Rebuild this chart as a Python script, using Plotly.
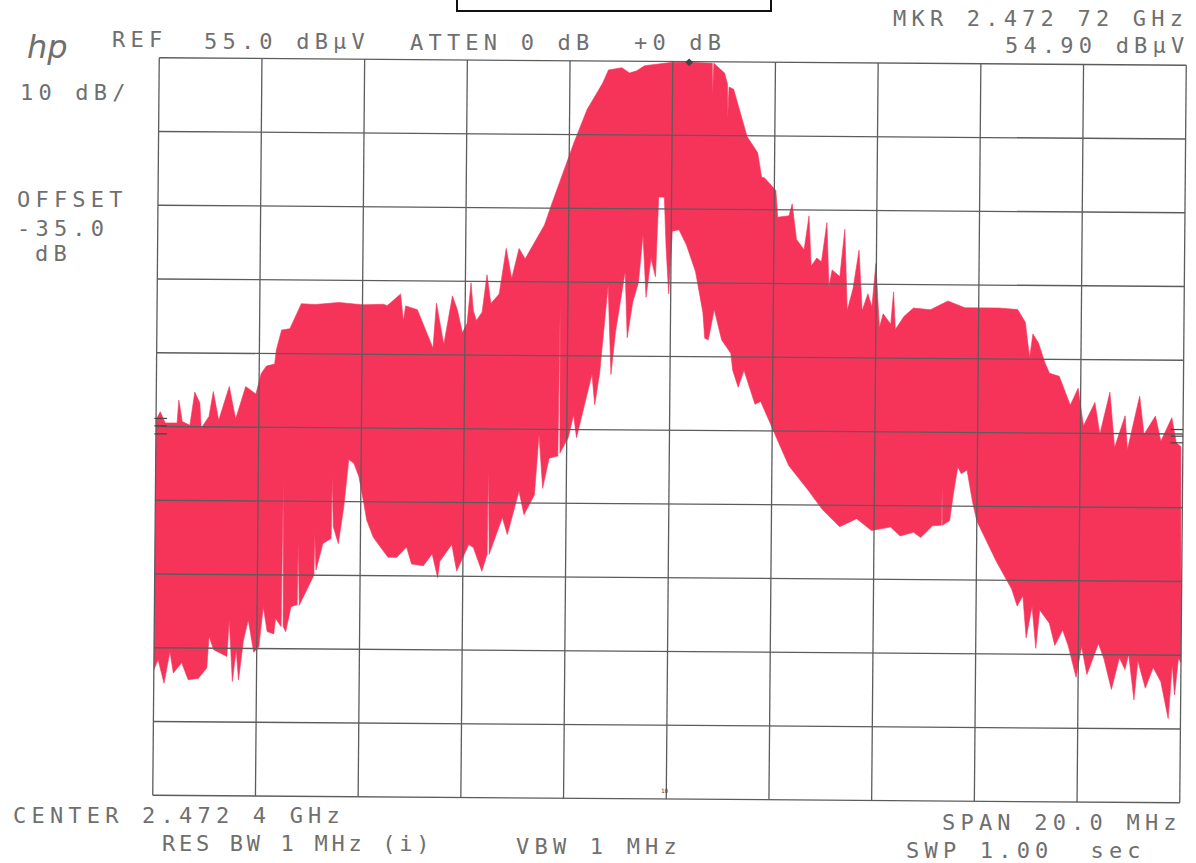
import plotly.graph_objects as go

# Frequency is MHz from the 2.4724 GHz centre; amplitude is dBuV.
upper_mhz = [-10,-9.92,-9.82,-9.59,-9.56,-9.49,-9.34,-9.25,-9.15,-9.12,-8.97,-8.89,-8.78,-8.58,-8.45,-8.26,-8.06,-7.96,-7.86,-7.70,-7.67,-7.57,-7.41,-7.19,-6.92,-6.46,-6.0,-5.59,-5.52,-5.26,-5.2,-5.16,-4.93,-4.77,-4.62,-4.56,-4.5,-4.41,-4.25,-4.15,-4.05,-3.96,-3.89,-3.84,-3.78,-3.67,-3.58,-3.5,-3.34,-3.21,-3.10,-2.96,-2.84,-2.47,-2.32,-2.03,-1.91,-1.66,-1.36,-1.25,-0.99,-0.84,-0.7,-0.55,0,0.32,0.72,0.77,0.78,0.8,1.01,1.07,1.08,1.1,1.19,1.42,1.46,1.67,1.75,1.81,2.03,2.07,2.29,2.35,2.44,2.59,2.68,2.73,2.84,2.93,3.03,3.08,3.14,3.29,3.38,3.44,3.55,3.66,3.73,3.84,3.92,3.99,4.07,4.14,4.29,4.34,4.38,4.55,4.73,5.06,5.40,5.73,6.02,6.39,6.76,6.91,7.0,7.06,7.17,7.3,7.39,7.58,7.8,7.95,8.06,8.28,8.38,8.57,8.67,8.87,8.92,9.15,9.24,9.46,9.57,9.78,9.87,9.96]
upper_db = [5.9,7.0,5.5,5.5,8.6,5.7,5.2,9.7,8.2,4.8,6.4,9.8,5.9,10.5,6.1,10.5,9.5,12.3,13.3,13.6,15.5,18.2,18.4,21.8,21.7,22,21.7,21.8,21.6,23.2,19.5,21.6,21.1,18.4,15.9,22,19.8,16.4,23,21.1,18,19.3,24.8,21,19.7,20.8,25.9,22,23.3,29.5,25.4,29.5,28.1,32.7,35.8,41.6,43.9,48.4,52,53.8,54.1,53.4,53.7,54.4,54.9,54.9,54.9,54.8,50.5,54.8,53.5,52,47.4,51.6,51.3,45.8,44.9,42.7,39.4,39.3,37.6,34,34.2,35.8,31,29.6,34.2,27.4,28.5,28,33.3,24.6,26.9,26,32.4,21.4,24.4,29.6,21.4,23.7,21.9,27.8,19.1,21,19.6,24,18.9,20.7,21.8,21.6,22.8,21.9,21.9,21.9,21.7,20,15.2,18.4,17.2,14.5,13.1,12.7,8.8,11.1,6,9.2,4.9,10.6,3.1,7.4,2.8,10.1,4.9,7.4,4,7.2,3.8,3.3]

lower_mhz = [-10,-9.92,-9.8,-9.69,-9.62,-9.46,-9.33,-9.13,-8.97,-8.93,-8.84,-8.58,-8.54,-8.47,-8.4,-8.35,-8.26,-8.17,-8.06,-7.96,-7.88,-7.8,-7.67,-7.64,-7.53,-7.51,-7.49,-7.44,-7.34,-7.22,-7.21,-7.18,-6.95,-6.9,-6.89,-6.86,-6.73,-6.57,-6.56,-6.53,-6.43,-6.33,-6.24,-6.14,-6.04,-5.94,-5.88,-5.75,-5.46,-5.29,-5.1,-5,-4.77,-4.6,-4.49,-4.45,-4.22,-4.12,-3.89,-3.8,-3.63,-3.53,-3.52,-3.49,-3.24,-3.14,-2.92,-2.82,-2.62,-2.54,-2.46,-2.34,-2.17,-2.15,-2.13,-1.97,-1.87,-1.81,-1.52,-1.46,-1.37,-1.22,-1.15,-1.07,-0.89,-0.84,-0.74,-0.63,-0.55,-0.48,-0.39,-0.3,-0.25,-0.14,-0.1,-0.04,0.02,0.15,0.3,0.48,0.63,0.67,0.74,0.85,1.0,1.18,1.22,1.33,1.44,1.55,1.66,1.77,2,2.18,2.33,2.7,2.99,3.33,3.66,3.95,4.32,4.51,4.77,4.91,5.14,5.31,5.32,5.33,5.47,5.54,5.62,5.69,5.8,5.91,6.0,6.1,6.39,6.69,6.8,6.91,6.98,7.09,7.17,7.24,7.43,7.54,7.69,7.8,7.96,8.06,8.17,8.39,8.5,8.65,8.8,8.91,8.98,9.09,9.16,9.31,9.46,9.61,9.76,9.83,9.88,9.95,10]
lower_db = [-28,-26.6,-29.8,-25.5,-28.4,-27,-29.3,-29.1,-27.7,-23.4,-25.2,-26.1,-21.1,-29.5,-25.2,-29.3,-23.9,-21.1,-25.5,-24.8,-19.3,-22.7,-23,-20.9,-22,-2,-22,-22.7,-19.3,-19,-10.7,-19.1,-15.7,-15,-9.3,-14.3,-10.7,-10,-1.6,-8.4,-10.7,-5.7,0.7,0.2,-1.6,-5.2,-7.5,-9.8,-12.5,-12.5,-11.1,-13.4,-13.6,-12,-15.2,-13,-10.7,-14.3,-10.7,-11.1,-14.3,-12,-0.2,-12,-7,-9.3,-3.4,-6.6,-3.9,4.3,-3,1.1,1.4,21.6,1.8,3.9,7,3.9,12.5,8.4,12.7,24.6,12.5,18.2,26.5,17.5,22.3,25,31.5,23,28.3,25.8,36.6,36.6,30,23.5,32,32.2,30.1,26.5,21,17.5,17.3,21.4,17.3,15.5,13.2,10.9,13.2,10.9,8.6,9,5.4,2.6,0.3,-2.9,-5.6,-7.9,-6.8,-8.4,-7.9,-9.1,-8.6,-9.3,-7.7,-7.6,-2.4,-7.6,-7,-3.3,0.3,-0.6,-0.1,-4.3,-7,-8.4,-12.5,-16.2,-18.5,-17.1,-22.8,-18.5,-24.2,-19,-20.8,-23.8,-21.7,-23.8,-28.1,-23.9,-27.7,-23.5,-25.6,-29.7,-25.4,-27,-24.9,-31.1,-25.8,-29.5,-26.7,-28.6,-33.6,-26.3,-30.4,-25.4,-26]

grid_mhz = [-10,-8,-6,-4,-2,0,2,4,6,8,10]
grid_db = [55,45,35,25,15,5,-5,-15,-25,-35,-45]
marker_mhz = [0.32]
marker_db = [54.9]
left_ticks_mhz = [-9.91,-9.91,-9.91]
right_ticks_mhz = [9.88,9.88,9.88]
left_ticks_db = [6.1,5.1,4.0]
right_ticks_db = [5.6,4.7,3.8]

# The scanned sheet sits slightly rotated on the page.
SHEAR_X = 0.00127
SHEAR_Y = 0.0508
def tilt(xs, ys):
    out_x, out_y = [], []
    for x, y in zip(xs, ys):
        if x is None:
            out_x.append(None); out_y.append(None)
        else:
            out_x.append(x + SHEAR_X * (y - 5))
            out_y.append(y - SHEAR_Y * x)
    return out_x, out_y

W, H = 1196, 863
RED = "#F6345A"
GRID = "#5c5c5c"
TEXT = "#6f6f6f"

fig = go.Figure()

env_x, env_y = tilt(upper_mhz + lower_mhz[::-1], upper_db + lower_db[::-1])
fig.add_trace(go.Scatter(x=env_x, y=env_y, mode="lines", fill="toself", fillcolor=RED,
                         line=dict(color=RED, width=0.6), cliponaxis=False, hoverinfo="skip"))

gx, gy = [], []
for m in grid_mhz:
    gx += [m, m, None]; gy += [grid_db[0], grid_db[-1], None]
for d in grid_db:
    gx += [grid_mhz[0], grid_mhz[-1], None]; gy += [d, d, None]
gx, gy = tilt(gx, gy)
fig.add_trace(go.Scatter(x=gx, y=gy, mode="lines", line=dict(color=GRID, width=1.3),
                         cliponaxis=False, hoverinfo="skip"))

mx, my = tilt(marker_mhz, marker_db)
fig.add_trace(go.Scatter(x=mx, y=my, mode="markers", cliponaxis=False, hoverinfo="skip",
                         marker=dict(symbol="diamond", size=6, color="#444")))
tx, ty = tilt(left_ticks_mhz + right_ticks_mhz, left_ticks_db + right_ticks_db)
fig.add_trace(go.Scatter(x=tx, y=ty, mode="markers", cliponaxis=False, hoverinfo="skip",
                         marker=dict(symbol="line-ew", size=9, line=dict(color="#444", width=1.2))))

labels = [
    ("REF", 110, 40), ("55.0 dBµV", 202, 41), ("ATTEN 0 dB", 408, 42), ("+0 dB", 632, 43),
    ("MKR 2.472 72 GHz", 891, 18), ("54.90 dBµV", 1003, 46),
    ("10 dB/", 18, 93), ("OFFSET", 15, 200), ("-35.0", 15, 228), ("dB", 33, 254),
    ("CENTER 2.472 4 GHz", 11, 815), ("RES BW 1 MHz (i)", 160, 843), ("VBW 1 MHz", 514, 846),
    ("SPAN 20.0 MHz", 940, 822), ("SWP 1.00\u00a0\u00a0sec", 904, 850),
]
annotations = [dict(text=t, x=px / W, y=1 - py / H, xref="paper", yref="paper", xanchor="left",
                    yanchor="middle", align="left", showarrow=False,
                    font=dict(family="DejaVu Sans Mono", size=22, color=TEXT))
               for t, px, py in labels]
annotations.append(dict(text="hp", x=47 / W, y=1 - 47 / H, xref="paper", yref="paper", showarrow=False,
                        xanchor="center", yanchor="middle",
                        font=dict(family="DejaVu Sans", size=32, color=TEXT, style="italic")))
annotations.append(dict(text="10", x=665 / W, y=1 - 796 / H, xref="paper", yref="paper", showarrow=False,
                        font=dict(family="DejaVu Sans Mono", size=6, color="#444")))

# Axes are hidden; their ranges run a little past the grid so the tilted frame is kept whole.
PAD_X, PAD_Y = 0.2, 2
fig.update_layout(
    width=W, height=H, margin=dict(l=0, r=0, t=0, b=0), showlegend=False,
    paper_bgcolor="white", plot_bgcolor="white", annotations=annotations,
    xaxis=dict(domain=[(156 - PAD_X * 51.35) / W, (1183 + PAD_X * 51.35) / W],
               range=[grid_mhz[0] - PAD_X, grid_mhz[-1] + PAD_X], visible=False),
    yaxis=dict(domain=[1 - (799 + PAD_Y * 7.375) / H, 1 - (61.5 - PAD_Y * 7.375) / H],
               range=[grid_db[-1] - PAD_Y, grid_db[0] + PAD_Y], visible=False),
    shapes=[dict(type="rect", xref="paper", yref="paper", x0=457 / W, x1=771 / W,
                 y0=1 - 11 / H, y1=1 + 6 / H, line=dict(color="#111", width=2))],
)

spacing_js = """
document.body.style.margin = '0';
document.querySelectorAll('.annotation-text').forEach(function (t) {
  var s = t.textContent;
  if (s === 'hp' || s === '10') return;
  t.style.letterSpacing = s.indexOf('RES') === 0 ? '3.7px' : '5.2px';
});
"""
fig.write_html("out.html", post_script=spacing_js, config=dict(displayModeBar=False))
